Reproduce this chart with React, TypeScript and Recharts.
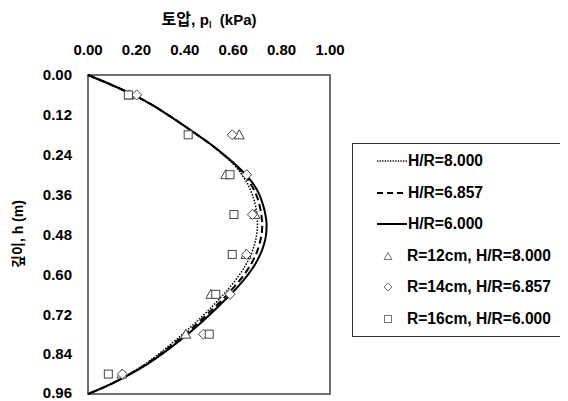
import React from 'react';
import { ComposedChart, Line, XAxis, YAxis, ReferenceArea, Legend } from 'recharts';

const FONT = '"Liberation Sans", "Noto Sans CJK KR", sans-serif';

// depth (m) of the theoretical curves
const depths = [0, 0.03, 0.06, 0.09, 0.12, 0.15, 0.18, 0.21, 0.24, 0.27, 0.3, 0.33, 0.36, 0.39, 0.42, 0.45, 0.48, 0.51, 0.54, 0.57, 0.6, 0.63, 0.66, 0.69, 0.72, 0.75, 0.78, 0.81, 0.84, 0.87, 0.9, 0.93, 0.96];
// theoretical earth pressure (kPa)
const pHR8000 = [0, 0.098, 0.188, 0.265, 0.33, 0.392, 0.452, 0.508, 0.558, 0.603, 0.636, 0.661, 0.679, 0.691, 0.698, 0.7, 0.697, 0.688, 0.674, 0.653, 0.627, 0.596, 0.56, 0.522, 0.481, 0.437, 0.391, 0.342, 0.292, 0.236, 0.169, 0.093, 0];
const pHR6857 = [0, 0.098, 0.188, 0.265, 0.33, 0.392, 0.452, 0.51, 0.56, 0.608, 0.645, 0.674, 0.695, 0.708, 0.716, 0.72, 0.717, 0.708, 0.694, 0.673, 0.646, 0.613, 0.576, 0.536, 0.493, 0.449, 0.402, 0.352, 0.299, 0.241, 0.172, 0.094, 0];
const pHR6000 = [0, 0.098, 0.188, 0.265, 0.33, 0.392, 0.452, 0.51, 0.562, 0.61, 0.652, 0.685, 0.708, 0.723, 0.733, 0.738, 0.736, 0.727, 0.712, 0.69, 0.662, 0.628, 0.59, 0.548, 0.505, 0.46, 0.412, 0.36, 0.305, 0.245, 0.175, 0.095, 0];

// measured values
const testDepths = [0.06, 0.18, 0.3, 0.42, 0.54, 0.66, 0.78, 0.9];
const pR12 = [0.17, 0.625, 0.569, 0.69, 0.653, 0.508, 0.404, 0.14];
const pR14 = [0.201, 0.596, 0.656, 0.679, 0.655, 0.587, 0.477, 0.142];
const pR16 = [0.167, 0.414, 0.587, 0.603, 0.596, 0.528, 0.501, 0.084];

const xTicks = [0, 0.2, 0.4, 0.6, 0.8, 1.0];
const yTicks = [0, 0.12, 0.24, 0.36, 0.48, 0.6, 0.72, 0.84, 0.96];

const seriesNames = ['H/R=8.000', 'H/R=6.857', 'H/R=6.000', 'R=12cm, H/R=8.000', 'R=14cm, H/R=6.857', 'R=16cm, H/R=6.000'];

const rows = depths.map((h, i) => {
  const j = testDepths.indexOf(h);
  return {
    h,
    c8: pHR8000[i],
    c6857: pHR6857[i],
    c6: pHR6000[i],
    m12: j >= 0 ? pR12[j] : null,
    m14: j >= 0 ? pR14[j] : null,
    m16: j >= 0 ? pR16[j] : null,
  };
});

const MSTROKE = '#444';

const triDot = (props: any) => {
  const { cx, cy, index, value } = props;
  if (cx == null || cy == null || value == null) return <g key={`t${index}`} />;
  return <polygon key={`t${index}`} points={`${cx},${cy - 5} ${cx - 5},${cy + 4} ${cx + 5},${cy + 4}`} fill="#fff" stroke={MSTROKE} strokeWidth={1} />;
};
const diaDot = (props: any) => {
  const { cx, cy, index, value } = props;
  if (cx == null || cy == null || value == null) return <g key={`d${index}`} />;
  return <polygon key={`d${index}`} points={`${cx},${cy - 5} ${cx + 5},${cy} ${cx},${cy + 5} ${cx - 5},${cy}`} fill="#fff" stroke={MSTROKE} strokeWidth={1} />;
};
const sqDot = (props: any) => {
  const { cx, cy, index, value } = props;
  if (cx == null || cy == null || value == null) return <g key={`s${index}`} />;
  return <rect key={`s${index}`} x={cx - 4} y={cy - 4} width={8} height={8} fill="#fff" stroke={MSTROKE} strokeWidth={1} />;
};

function XTitle(props: any) {
  const vb = props.viewBox || {};
  const cx = (vb.x ?? 80) + (vb.width ?? 242) / 2;
  return (
    <text x={cx} y={17} textAnchor="middle" fontFamily={FONT} fontWeight="bold" fontSize={15} style={{ fill: '#000' }}>
      <tspan fontSize={16}>토압, </tspan>
      <tspan>p</tspan>
      <tspan fontSize={9} dy={3}>l</tspan>
      <tspan dy={-3}>{'\u00a0\u00a0(kPa)'}</tspan>
    </text>
  );
}

function YTitle() {
  return (
    <text transform="translate(15,226) rotate(-90)" textAnchor="middle" fontFamily={FONT} fontWeight="bold" fontSize={14} style={{ fill: '#000' }}>
      깊이, h (m)
    </text>
  );
}

function LegendIcon({ idx }: { idx: number }) {
  if (idx === 0) return <svg width={30} height={6}><line x1={0} y1={3} x2={30} y2={3} stroke="#000" strokeWidth={1.3} strokeDasharray="1.3 1.3" /></svg>;
  if (idx === 1) return <svg width={30} height={6}><line x1={0} y1={3} x2={30} y2={3} stroke="#000" strokeWidth={2} strokeDasharray="6 4" /></svg>;
  if (idx === 2) return <svg width={30} height={6}><line x1={0} y1={3} x2={30} y2={3} stroke="#000" strokeWidth={2} /></svg>;
  const c = '#777';
  return (
    <svg width={30} height={10}>
      {idx === 3 && <polygon points="10,1.5 6,8.5 14,8.5" fill="#fff" stroke={c} strokeWidth={1} />}
      {idx === 4 && <polygon points="10,1 14,5 10,9 6,5" fill="#fff" stroke={c} strokeWidth={1} />}
      {idx === 5 && <rect x={6.5} y={1.5} width={7} height={7} fill="#fff" stroke={c} strokeWidth={1} />}
    </svg>
  );
}

function LegendBox() {
  return (
    <div style={{ width: 208, height: 190, border: '1px solid #333', background: '#fff', boxSizing: 'content-box', paddingTop: 1.5, fontFamily: FONT, fontWeight: 'bold', fontSize: 15.6, color: '#000' }}>
      {seriesNames.map((name, i) => (
        <div key={name} style={{ height: 31.5, display: 'flex', alignItems: 'center' }}>
          <div style={{ width: i < 3 ? 24 : 25, flex: 'none' }} />
          <div style={{ width: i < 3 ? 31 : 29, flex: 'none', display: 'flex', alignItems: 'center' }}>
            <LegendIcon idx={i} />
          </div>
          <span style={{ whiteSpace: 'nowrap' }}>{name}</span>
        </div>
      ))}
    </div>
  );
}

export default function App() {
  return (
    <ComposedChart
      width={560}
      height={393}
      data={rows}
      layout="vertical"
      margin={{ top: 37, right: 238, bottom: 7, left: 0 }}
    >
      <XAxis
        type="number"
        orientation="top"
        domain={[0, 1]}
        ticks={xTicks}
        height={30}
        tickSize={0}
        tickMargin={20}
        axisLine={false}
        tickFormatter={(v: number) => v.toFixed(2)}
        tick={{ fontFamily: FONT, fontWeight: 'bold', fontSize: 15, fill: '#000' }}
        label={<XTitle />}
      />
      <YAxis
        type="number"
        dataKey="h"
        domain={[0, 0.96]}
        ticks={yTicks}
        width={80}
        tickSize={0}
        tickMargin={16}
        axisLine={false}
        tickFormatter={(v: number) => v.toFixed(2)}
        tick={{ fontFamily: FONT, fontWeight: 'bold', fontSize: 15, fill: '#000' }}
        label={<YTitle />}
      />
      <ReferenceArea x1={0} x2={1} y1={0} y2={0.96} fill="none" stroke="#404040" strokeWidth={1.5} fillOpacity={0} />
      <Legend
        layout="vertical"
        align="center"
        verticalAlign="middle"
        wrapperStyle={{ left: 344, top: 135, width: 210 }}
        content={() => <LegendBox />}
      />
      <Line name={seriesNames[0]} dataKey="c8" type="monotone" stroke="#000" strokeWidth={1.5} strokeDasharray="1.5 1.5" dot={false} activeDot={false} isAnimationActive={false} />
      <Line name={seriesNames[1]} dataKey="c6857" type="monotone" stroke="#000" strokeWidth={2} strokeDasharray="7 4" dot={false} activeDot={false} isAnimationActive={false} />
      <Line name={seriesNames[2]} dataKey="c6" type="monotone" stroke="#000" strokeWidth={2} dot={false} activeDot={false} isAnimationActive={false} />
      <Line name={seriesNames[3]} dataKey="m12" stroke="none" strokeWidth={0} dot={triDot} activeDot={false} isAnimationActive={false} />
      <Line name={seriesNames[4]} dataKey="m14" stroke="none" strokeWidth={0} dot={diaDot} activeDot={false} isAnimationActive={false} />
      <Line name={seriesNames[5]} dataKey="m16" stroke="none" strokeWidth={0} dot={sqDot} activeDot={false} isAnimationActive={false} />
    </ComposedChart>
  );
}
